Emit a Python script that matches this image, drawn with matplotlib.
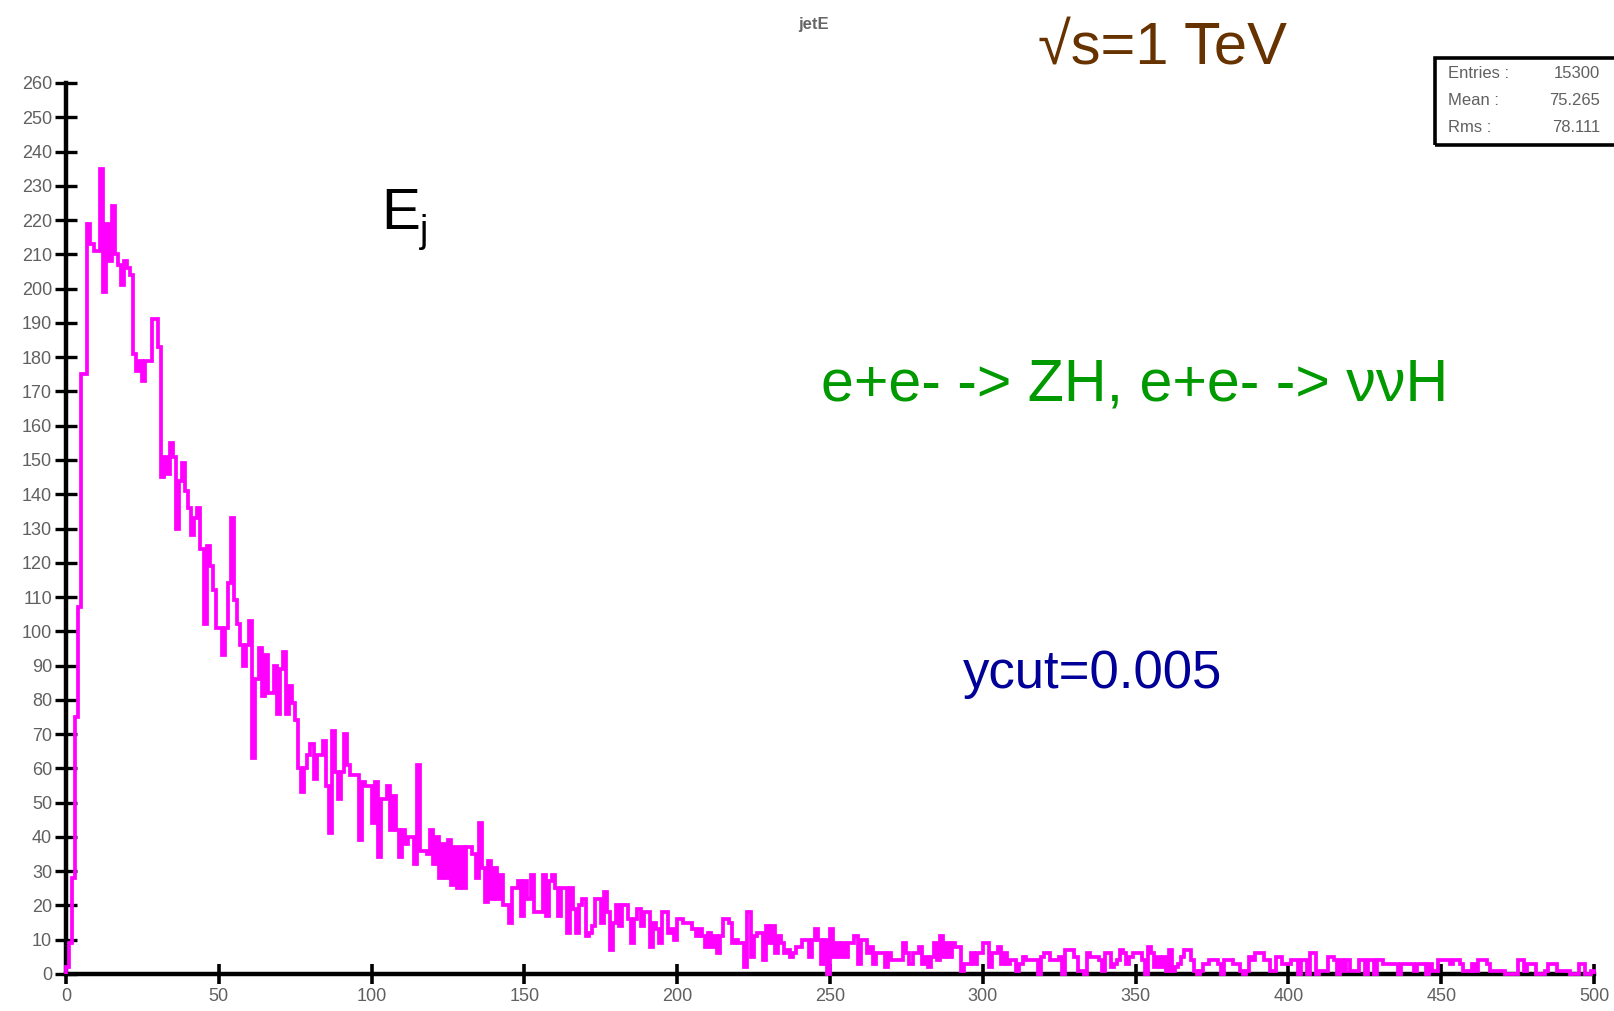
import matplotlib

matplotlib.use("Agg")
import matplotlib.pyplot as plt  # noqa: E402
import numpy as np  # noqa: E402
from matplotlib.patches import Rectangle  # noqa: E402

W, H = 1615, 1011
SANS = ["Liberation Sans", "DejaVu Sans"]
plt.rcParams["font.family"] = SANS

# jet energy histogram, 1 GeV bins from 0 to 500
counts_000 = [
    2, 9, 28, 75, 107, 175, 175, 219, 213, 211,
    211, 235, 199, 219, 208, 224, 210, 207, 201, 208,
    206, 204, 181, 176, 179, 173, 179, 179, 191, 191,
    183, 145, 151, 146, 155, 151, 130, 144, 149, 141,
    136, 128, 133, 136, 124, 102, 125, 119, 112, 101,
]
counts_050 = [
    101, 93, 101, 114, 133, 109, 102, 96, 90, 96,
    103, 63, 86, 95, 81, 93, 82, 82, 90, 76,
    89, 94, 76, 84, 79, 74, 60, 53, 60, 64,
    67, 57, 64, 64, 68, 55, 41, 71, 59, 51,
    59, 70, 61, 58, 58, 58, 39, 56, 55, 55,
]
counts_100 = [
    44, 56, 34, 51, 51, 55, 42, 52, 42, 34,
    42, 38, 40, 40, 32, 61, 36, 36, 35, 42,
    32, 40, 28, 38, 28, 39, 26, 37, 25, 37,
    25, 37, 37, 35, 28, 44, 31, 21, 33, 22,
    31, 22, 29, 20, 20, 15, 25, 25, 27, 17,
]
counts_150 = [
    27, 22, 29, 18, 18, 18, 29, 17, 27, 29,
    25, 17, 25, 25, 12, 25, 19, 12, 20, 22,
    11, 12, 14, 22, 22, 15, 24, 18, 7, 15,
    20, 14, 20, 20, 16, 9, 16, 19, 14, 18,
    18, 8, 15, 13, 9, 18, 18, 12, 13, 10,
]
counts_200 = [
    16, 16, 15, 15, 15, 13, 11, 13, 11, 8,
    12, 8, 11, 6, 11, 16, 16, 15, 9, 10,
    9, 9, 2, 18, 5, 11, 12, 12, 4, 14,
    9, 14, 6, 11, 9, 6, 7, 5, 6, 8,
    8, 10, 10, 5, 10, 13, 10, 3, 10, 0,
    13, 5, 9, 5, 9, 5, 9, 9, 11, 3,
    10, 10, 6, 8, 3, 6, 6, 6, 2, 6,
    4, 4, 4, 4, 9, 6, 3, 6, 6, 8,
    3, 5, 2, 5, 9, 4, 11, 5, 9, 5,
    9, 8, 8, 1, 3, 3, 6, 3, 6, 6,
]
counts_300 = [
    9, 9, 2, 6, 6, 8, 3, 6, 3, 4,
    4, 1, 3, 5, 4, 4, 4, 4, 0, 5,
    6, 6, 4, 4, 4, 5, 0, 7, 7, 7,
    5, 1, 1, 0, 6, 5, 5, 5, 4, 1,
    6, 6, 2, 3, 4, 7, 6, 3, 5, 6,
    6, 6, 4, 0, 8, 6, 2, 5, 2, 5,
    1, 7, 1, 2, 3, 5, 7, 7, 4, 1,
    0, 1, 3, 3, 4, 4, 4, 3, 0, 4,
    4, 4, 3, 3, 1, 0, 1, 5, 4, 6,
    6, 6, 4, 4, 1, 1, 5, 5, 3, 3,
]
counts_400 = [
    3, 4, 4, 0, 4, 4, 0, 6, 6, 0,
    1, 1, 1, 5, 5, 4, 0, 4, 1, 4,
    1, 1, 1, 4, 4, 0, 4, 4, 0, 4,
    4, 3, 3, 3, 3, 3, 0, 3, 3, 3,
    3, 1, 3, 3, 3, 0, 3, 1, 1, 4,
    4, 4, 4, 3, 4, 4, 3, 1, 1, 1,
    3, 1, 4, 4, 4, 3, 1, 1, 1, 1,
    1, 0, 0, 0, 0, 4, 4, 1, 3, 3,
    3, 0, 0, 0, 1, 3, 3, 3, 1, 1,
    1, 1, 0, 0, 0, 3, 3, 0, 0, 1,
]
x_min, x_max = 0, 500
y_ticks = list(range(0, 261, 10))
x_ticks = list(range(0, 501, 50))
stats = [("Entries :", "15300"), ("Mean :", "75.265"), ("Rms :", "78.111")]


def fx(px):
    return px / W


def fy(py):
    return 1 - py / H


counts = np.array(counts_000 + counts_050 + counts_100 + counts_150
                  + counts_200 + counts_300 + counts_400)
edges = np.linspace(x_min, x_max, len(counts) + 1)

fig = plt.figure(figsize=(W / 100, H / 100), dpi=100)
ax = fig.add_axes([fx(66), fy(974), fx(1594) - fx(66), fy(83) - fy(974)])
ax.stairs(counts, edges, color="#ff00ff", lw=2.7, baseline=0,
          zorder=3, clip_on=False)

ax.set_xlim(x_min, x_max)
ax.set_ylim(0, 260)
ax.set_xticks(x_ticks)
ax.set_yticks(y_ticks)
for side in ("top", "right"):
    ax.spines[side].set_visible(False)
for side in ("left", "bottom"):
    ax.spines[side].set_linewidth(3.2)
ax.tick_params(axis="y", direction="inout", length=16, width=2.4, pad=2,
               labelsize=13, labelcolor="#606060")
ax.tick_params(axis="x", direction="inout", length=14, width=2.6, pad=3,
               labelsize=13, labelcolor="#606060")

fig.text(fx(814), fy(24), "jetE", ha="center", va="center", fontsize=12,
         color="#666666", fontweight="bold")
fig.text(fx(1038), fy(64), "\u221as=1 TeV", ha="left", va="baseline",
         fontsize=43, color="#663300")
fig.text(fx(381), fy(229), "E", ha="left", va="baseline", fontsize=42,
         color="black")
fig.text(fx(420), fy(242), "j", ha="left", va="baseline", fontsize=27,
         color="black")
fig.text(fx(821), fy(401), "e+e- -> ZH, e+e- -> \u03bd\u03bdH", ha="left",
         va="baseline", fontsize=42.6, color="#009900")
fig.text(fx(963), fy(688), "ycut=0.005", ha="left", va="baseline",
         fontsize=38, color="#000099")

# statistics box in the top right corner
fig.patches.append(Rectangle((fx(1435), fy(145)), fx(1630) - fx(1435),
                             fy(58) - fy(145), transform=fig.transFigure,
                             fill=False, lw=2.6, edgecolor="black"))
for i, (label, value) in enumerate(stats):
    yy = fy(73 + i * 27.5)
    fig.text(fx(1448), yy, label, ha="left", va="center", fontsize=12,
             color="#606060")
    fig.text(fx(1600), yy, value, ha="right", va="center", fontsize=12,
             color="#606060")

fig.savefig("out.png", dpi=100)
